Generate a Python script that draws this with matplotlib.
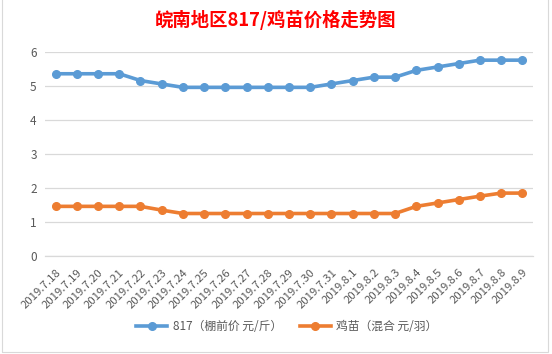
import matplotlib
matplotlib.use("Agg")
import matplotlib.pyplot as plt
from matplotlib.patches import Rectangle

plt.rcParams['font.family'] = ['Noto Sans CJK SC', 'DejaVu Sans']

# ---------- data ----------
dates = ["2019.7.18", "2019.7.19", "2019.7.20", "2019.7.21", "2019.7.22", "2019.7.23",
         "2019.7.24", "2019.7.25", "2019.7.26", "2019.7.27", "2019.7.28", "2019.7.29",
         "2019.7.30", "2019.7.31", "2019.8.1", "2019.8.2", "2019.8.3", "2019.8.4",
         "2019.8.5", "2019.8.6", "2019.8.7", "2019.8.8", "2019.8.9"]
price_817 = [5.36, 5.36, 5.36, 5.36, 5.16, 5.06, 4.96, 4.96, 4.96, 4.96, 4.96, 4.96,
             4.96, 5.06, 5.16, 5.26, 5.26, 5.46, 5.56, 5.66, 5.76, 5.76, 5.76]
price_chick = [1.46, 1.46, 1.46, 1.46, 1.46, 1.35, 1.25, 1.25, 1.25, 1.25, 1.25, 1.25,
               1.25, 1.25, 1.25, 1.25, 1.25, 1.46, 1.56, 1.66, 1.76, 1.85, 1.85]
series_names = ["817（棚前价 元/斤）", "鸡苗（混合 元/羽）"]
yticks = [0, 1, 2, 3, 4, 5, 6]

BLUE = "#5B9BD5"
ORANGE = "#ED7D31"
GRID = "#D9D9D9"
TXT = "#595959"

fig = plt.figure(figsize=(5.52, 3.54), dpi=100)
ax = fig.add_axes([45 / 552, 1 - 256 / 354, (533 - 45) / 552, (256 - 52) / 354])

x = list(range(len(dates)))
ax.plot(x, price_817, color=BLUE, lw=2.6, marker="o", ms=5.5, label=series_names[0])
ax.plot(x, price_chick, color=ORANGE, lw=2.6, marker="o", ms=5.5, label=series_names[1])

ax.set_xlim(-0.5, len(dates) - 0.5)
ax.set_ylim(0, 6)
ax.set_yticks(yticks)
ax.grid(axis="y", color=GRID, lw=0.9)
ax.set_axisbelow(True)
for s in ["top", "right", "left"]:
    ax.spines[s].set_visible(False)
ax.spines["bottom"].set_color(GRID)
ax.spines["bottom"].set_linewidth(0.9)
ax.tick_params(length=0, colors=TXT, labelsize=8.5)
ax.tick_params(axis="y", pad=6)
ax.set_xticks(x)
ax.set_xticklabels(dates, rotation=45, ha="right", va="top", rotation_mode="anchor",
                   fontsize=8.2, color=TXT)
ax.tick_params(axis="x", pad=8)

fig.text(0.5, 1 - 20 / 354, "皖南地区817/鸡苗价格走势图", color="red", fontsize=13.2,
         fontweight="bold", ha="center", va="center")

fig.legend(loc="center", bbox_to_anchor=(0.52, 1 - 327 / 354), ncol=2, frameon=False,
           fontsize=8.5, labelcolor=TXT, handlelength=2.6, columnspacing=1.5,
           handletextpad=0.5)

fig.patches.append(Rectangle((2 / 552, 2 / 354), 546 / 552, 1.2, transform=fig.transFigure,
                             fill=False, edgecolor=GRID, lw=0.8))

fig.savefig("out.png", dpi=100)
